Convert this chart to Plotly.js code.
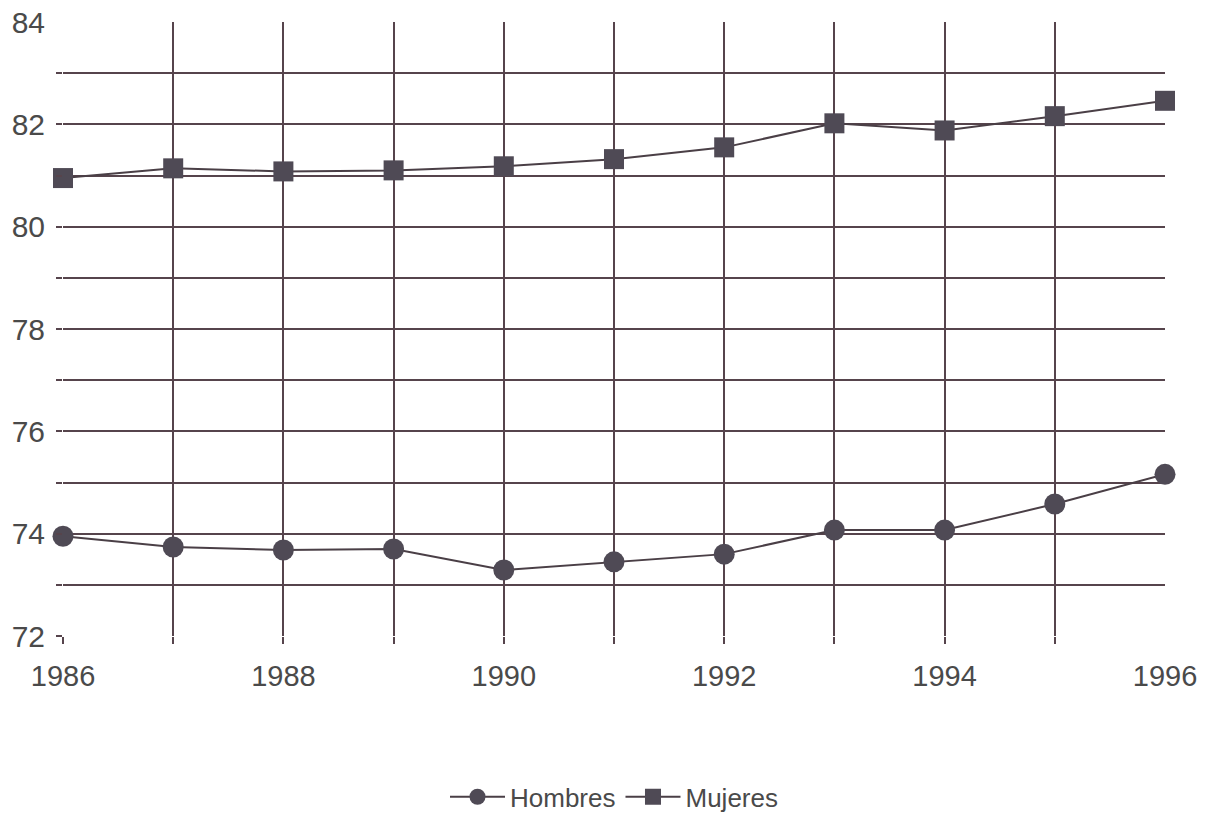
<!DOCTYPE html>
<html>
<head>
<meta charset="utf-8">
<script src="https://cdn.plot.ly/plotly-3.0.1.min.js"></script>
<style>
html,body{margin:0;padding:0;background:#fff;}
#chart{width:1205px;height:816px;}
</style>
</head>
<body>
<div id="chart"></div>
<script>
const years = [1986, 1987, 1988, 1989, 1990, 1991, 1992, 1993, 1994, 1995, 1996];
const hombres = [73.95, 73.74, 73.68, 73.70, 73.29, 73.45, 73.60, 74.07, 74.07, 74.58, 75.16];
const mujeres = [80.95, 81.14, 81.08, 81.10, 81.18, 81.32, 81.55, 82.02, 81.88, 82.16, 82.46];
const xTickLabels = ['1986', '1988', '1990', '1992', '1994', '1996'];
const xTickVals = [1986, 1988, 1990, 1992, 1994, 1996];
const xGridVals = [1986, 1987, 1988, 1989, 1990, 1991, 1992, 1993, 1994, 1995];
const yTickVals = [72, 74, 76, 78, 80, 82, 84];
const yGridVals = [72, 73, 74, 75, 76, 77, 78, 79, 80, 81, 82, 83];

const lineCol = '#4a3f46';
const markCol = '#4f4a55';
const gridCol = '#56444c';
const textCol = '#4a4a4a';

const traces = [
  {
    x: years, y: hombres, name: 'Hombres', type: 'scatter', mode: 'lines+markers',
    line: {color: lineCol, width: 2},
    marker: {symbol: 'circle', size: 21, color: markCol},
    cliponaxis: false
  },
  {
    x: years, y: mujeres, name: 'Mujeres', type: 'scatter', mode: 'lines+markers',
    line: {color: lineCol, width: 2},
    marker: {symbol: 'square', size: 20, color: markCol},
    cliponaxis: false
  }
];

const layout = {
  width: 1205, height: 816,
  margin: {l: 63, r: 40, t: 22, b: 180, autoexpand: false},
  paper_bgcolor: '#ffffff', plot_bgcolor: '#ffffff',
  font: {family: '"Liberation Sans", Arial, sans-serif', size: 26, color: textCol},
  showlegend: true,
  legend: {orientation: 'h', x: 0.5, xanchor: 'center', y: -0.262, yanchor: 'middle',
           font: {size: 26, color: textCol}, itemwidth: 55, traceorder: 'normal'},
  xaxis: {
    range: [1986, 1996], tickmode: 'array', tickvals: xTickVals, ticktext: xTickLabels,
    showgrid: false, zeroline: false, showline: false, ticks: '',
    tickfont: {size: 29, color: textCol}, ticklabelstandoff: 20,
    minor: {tickmode: 'array', tickvals: xGridVals, showgrid: true, gridcolor: gridCol, gridwidth: 2,
            ticks: 'outside', ticklen: 7, tickcolor: gridCol, tickwidth: 2},
    fixedrange: true
  },
  yaxis: {
    range: [72, 84], tickmode: 'array', tickvals: yTickVals,
    showgrid: false, zeroline: false, showline: false, ticks: '',
    tickfont: {size: 30, color: textCol}, ticklabelstandoff: 17,
    minor: {tickmode: 'array', tickvals: yGridVals, showgrid: true, gridcolor: gridCol, gridwidth: 2,
            ticks: 'outside', ticklen: 6, tickcolor: gridCol, tickwidth: 2},
    fixedrange: true
  }
};

Plotly.newPlot('chart', traces, layout, {displayModeBar: false, staticPlot: true});
</script>
</body>
</html>
